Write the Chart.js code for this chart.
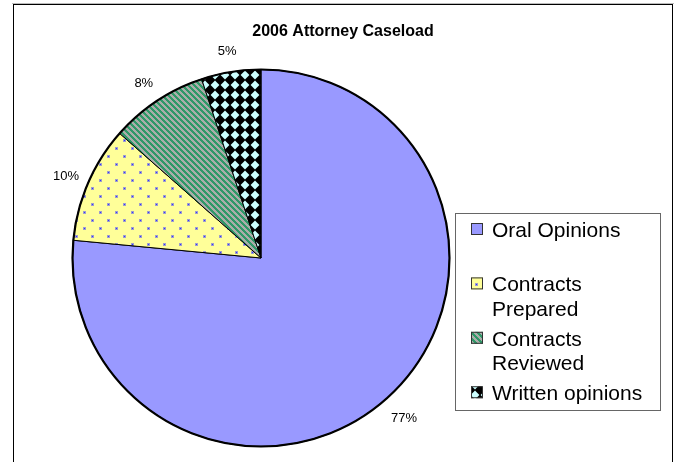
<!DOCTYPE html>
<html>
<head>
<meta charset="utf-8">
<script src="https://cdn.jsdelivr.net/npm/chart.js@4.4.1/dist/chart.umd.min.js"></script>
<style>
  html, body { margin: 0; padding: 0; background: #fff; }
  canvas { display: block; }
</style>
</head>
<body>
<canvas id="caseloadChart" width="675" height="462"></canvas>
<script>
// ---------------------------------------------------------------
//  2006 Attorney Caseload pie (Excel-style patterns)
// ---------------------------------------------------------------
const chartTitle = "2006 Attorney Caseload";
const categories = ["Oral Opinions", "Contracts Prepared", "Contracts Reviewed", "Written opinions"];
const shares     = [76.5, 10, 8.4, 5.1];   // slice sizes, labels round to 77/10/8/5

const FONT = "Arial, 'Liberation Sans', sans-serif";

// --- fill patterns ---------------------------------------------
function makeTile(w, h, paint) {
  const c = document.createElement("canvas");
  c.width = w; c.height = h;
  paint(c.getContext("2d"));
  return document.createElement("canvas").getContext("2d").createPattern(c, "repeat");
}

const solidBlue = "#9999ff";

const dotted = makeTile(16, 16, g => {
  g.fillStyle = "#ffff99";
  g.fillRect(0, 0, 16, 16);
  g.fillStyle = "rgba(60,60,255,0.5)";
  g.fillRect(3, 3, 3, 3);
  g.fillRect(11, 11, 3, 3);
  g.fillStyle = "#3333ff";
  g.fillRect(4, 4, 1, 1);
  g.fillRect(12, 12, 1, 1);
});

const striped = makeTile(6, 6, g => {
  for (let x = 0; x < 6; x++) {
    for (let y = 0; y < 6; y++) {
      g.fillStyle = (((x - y) % 6 + 6) % 6) < 3 ? "#2f9868" : "#a9ada9";
      g.fillRect(x, y, 1, 1);
    }
  }
});

const diamonds = makeTile(10, 10, g => {
  g.fillStyle = "#000";
  g.fillRect(0, 0, 10, 10);
  g.fillStyle = "#ccffff";
  g.beginPath();
  g.moveTo(5, 0.6); g.lineTo(9.4, 5); g.lineTo(5, 9.4); g.lineTo(0.6, 5);
  g.closePath();
  g.fill();
});

const fills = [solidBlue, dotted, striped, diamonds];

// --- frame, title, outer rim, % labels, legend ------------------
const decorations = {
  id: "decorations",
  beforeDraw(chart) {
    const ctx = chart.ctx;
    ctx.save();
    ctx.fillStyle = "#fff";
    ctx.fillRect(0, 0, chart.width, chart.height);
    ctx.strokeStyle = "#bbb";
    ctx.lineWidth = 1;
    ctx.beginPath(); ctx.moveTo(12, 3.5); ctx.lineTo(674, 3.5); ctx.stroke();
    ctx.strokeStyle = "#000";
    ctx.strokeRect(13.5, 4.5, 659, 480);

    ctx.fillStyle = "#000";
    ctx.font = "bold 16px " + FONT;
    ctx.textAlign = "center";
    ctx.textBaseline = "alphabetic";
    ctx.fillText(chartTitle, 343, 35.5);
    ctx.restore();
  },
  afterDatasetsDraw(chart) {
    const ctx  = chart.ctx;
    const arcs = chart.getDatasetMeta(0).data;
    const vals = chart.data.datasets[0].data;
    const total = vals.reduce((a, b) => a + b, 0);
    ctx.save();

    // heavy outer rim
    const { x, y, outerRadius } = arcs[0].getProps(["x", "y", "outerRadius"]);
    ctx.strokeStyle = "#000";
    ctx.lineWidth = 2.2;
    ctx.beginPath();
    ctx.arc(x, y, outerRadius, 0, Math.PI * 2);
    ctx.stroke();

    // percent labels just outside the rim
    ctx.fillStyle = "#000";
    ctx.font = "13px " + FONT;
    ctx.textAlign = "center";
    ctx.textBaseline = "middle";
    arcs.forEach((arc, i) => {
      const p = arc.getProps(["x", "y", "startAngle", "endAngle", "outerRadius"]);
      const mid = (p.startAngle + p.endAngle) / 2;
      const r = p.outerRadius + 24;
      ctx.fillText(Math.round(vals[i] / total * 100) + "%",
                   p.x + Math.cos(mid) * r, p.y + Math.sin(mid) * r + 3);
    });

    // legend box
    const box = { left: 455, top: 213, right: 660, bottom: 410 };
    ctx.fillStyle = "#fff";
    ctx.fillRect(box.left, box.top, box.right - box.left, box.bottom - box.top);
    ctx.strokeStyle = "#666";
    ctx.lineWidth = 1;
    ctx.strokeRect(box.left + 0.5, box.top + 0.5, box.right - box.left, box.bottom - box.top);

    ctx.font = "21px " + FONT;
    ctx.textAlign = "left";
    ctx.textBaseline = "alphabetic";
    const slot = 54.4, lineGap = 24.3, textX = 492, maxW = 165;
    chart.data.labels.forEach((label, i) => {
      // wrap on words when too wide
      const lines = [];
      let cur = "";
      label.split(" ").forEach(w => {
        const t = cur ? cur + " " + w : w;
        if (cur && ctx.measureText(t).width > maxW) { lines.push(cur); cur = w; }
        else cur = t;
      });
      lines.push(cur);

      const base = 237 + i * slot;
      ctx.fillStyle = chart.data.datasets[0].backgroundColor[i];
      ctx.fillRect(471, base - 14, 12, 12);
      ctx.strokeStyle = "#333";
      ctx.strokeRect(471.5, base - 13.5, 11, 11);
      ctx.fillStyle = "#000";
      lines.forEach((ln, j) => ctx.fillText(ln, textX, base + j * lineGap));
    });
    ctx.restore();
  }
};

new Chart(document.getElementById("caseloadChart"), {
  type: "pie",
  data: {
    labels: categories,
    datasets: [{
      data: shares,
      backgroundColor: fills,
      borderColor: "#000",
      borderWidth: 1,
      hoverOffset: 0,
      offset: 0
    }]
  },
  options: {
    responsive: false,
    animation: false,
    devicePixelRatio: 1,
    events: [],
    layout: { padding: { left: 72, right: 225, top: 69, bottom: 15 } },
    plugins: {
      legend: { display: false },
      title: { display: false },
      tooltip: { enabled: false }
    }
  },
  plugins: [decorations]
});
</script>
</body>
</html>
